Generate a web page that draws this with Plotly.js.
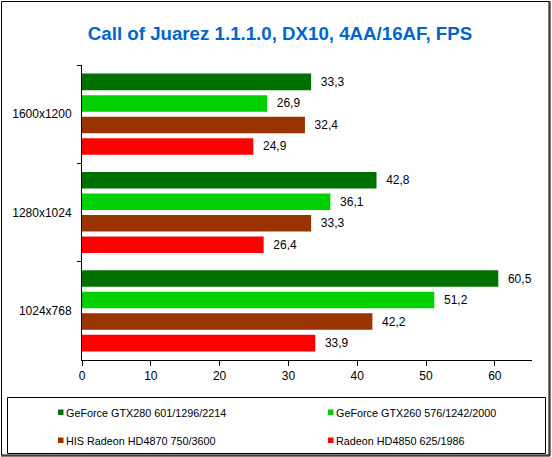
<!DOCTYPE html>
<html>
<head>
<meta charset="utf-8">
<script src="https://cdn.plot.ly/plotly-3.0.1.min.js"></script>
<style>
  html, body { margin: 0; padding: 0; background: #fff; }
  #chart { width: 552px; height: 457px; }
</style>
</head>
<body>
<div id="chart"></div>
<script>
// ---- data ----
const titleText = 'Call of Juarez 1.1.1.0, DX10, 4AA/16AF, FPS';
const categories = ['1600x1200', '1280x1024', '1024x768'];
const seriesNames = [
  'GeForce GTX280 601/1296/2214',
  'GeForce GTX260 576/1242/2000',
  'HIS Radeon HD4870 750/3600',
  'Radeon HD4850 625/1986'
];
const gtx280 = [33.3, 42.8, 60.5];
const gtx260 = [26.9, 36.1, 51.2];
const hd4870 = [32.4, 33.3, 42.2];
const hd4850 = [24.9, 26.4, 33.9];
const xTicks = [0, 10, 20, 30, 40, 50, 60];

// ---- styling ----
const seriesValues = [gtx280, gtx260, hd4870, hd4850];
const colors = ['#007000', '#00D000', '#993300', '#FF0000'];
const FONT = 'Liberation Sans, Arial, sans-serif';

const W = 552, H = 457;
const M = { l: 82, r: 20, t: 65, b: 97 };
const PW = W - M.l - M.r, PH = H - M.t - M.b;
const px = x => (x - M.l) / PW;          // pixel -> paper x
const py = y => (H - M.b - y) / PH;      // pixel -> paper y

const traces = seriesValues.map((vals, i) => ({
  type: 'bar',
  orientation: 'h',
  name: seriesNames[i],
  y: categories,
  x: vals,
  marker: { color: colors[i], line: { width: 0 } },
  texttemplate: '  %{x:.1f}',
  textposition: 'outside',
  textfont: { family: FONT, size: 12, color: '#000' },
  cliponaxis: false,
  hoverinfo: 'skip',
  showlegend: false
}));

const shapes = [
  // outer frame
  { type: 'rect', xref: 'paper', yref: 'paper', x0: px(1.5), x1: px(549), y0: py(1.5), y1: py(455),
    line: { color: '#000', width: 1 }, fillcolor: 'rgba(0,0,0,0)' },
  { type: 'line', xref: 'paper', yref: 'paper', x0: px(550), x1: px(550), y0: py(1), y1: py(456),
    line: { color: '#000', width: 1 } },
  { type: 'line', xref: 'paper', yref: 'paper', x0: px(1), x1: px(550), y0: py(456), y1: py(456),
    line: { color: '#000', width: 1 } },
  // legend frame
  { type: 'rect', xref: 'paper', yref: 'paper', x0: px(7.5), x1: px(545.5), y0: py(397.5), y1: py(453.5),
    line: { color: '#000', width: 1 }, fillcolor: 'rgba(0,0,0,0)' }
];
const annotations = [];
const legendPos = [[58, 412], [328, 412], [58, 440], [328, 440]];
seriesNames.forEach((name, i) => {
  const [lx, ly] = legendPos[i];
  shapes.push({ type: 'rect', xref: 'paper', yref: 'paper',
    x0: px(lx), x1: px(lx + 5.5), y0: py(ly - 2.5), y1: py(ly + 3),
    line: { width: 0 }, fillcolor: colors[i] });
  annotations.push({ xref: 'paper', yref: 'paper', x: px(lx + 6), y: py(ly + 0.5),
    xanchor: 'left', yanchor: 'middle', showarrow: false, text: name,
    font: { family: FONT, size: 10.8, color: '#000' } });
});

const layout = {
  width: W, height: H,
  margin: M,
  paper_bgcolor: '#fff', plot_bgcolor: '#fff',
  separators: ', ',
  font: { family: FONT, size: 12, color: '#000' },
  title: { text: titleText, x: 280 / W, xanchor: 'center', y: 1 - 33 / H, yanchor: 'middle',
           font: { family: FONT, size: 18.7, color: '#0066CC', weight: 'bold' } },
  barmode: 'group',
  bargap: 0.125,
  bargroupgap: 0.23,
  showlegend: false,
  xaxis: {
    range: [0, 65.4], tickvals: xTicks, ticktext: xTicks.map(String),
    showgrid: false, zeroline: false, showline: true, linecolor: '#000', linewidth: 1,
    ticks: 'outside', ticklen: 5, tickcolor: '#000', tickfont: { family: FONT, size: 12, color: '#000' },
    fixedrange: true
  },
  yaxis: {
    type: 'category', autorange: 'reversed', tickson: 'boundaries',
    showgrid: false, zeroline: false, showline: true, linecolor: '#000', linewidth: 1,
    ticks: 'outside', ticklen: 4, tickcolor: '#000', ticklabelstandoff: 7,
    tickfont: { family: FONT, size: 12, color: '#000' },
    fixedrange: true
  },
  shapes: shapes,
  annotations: annotations
};

Plotly.newPlot('chart', traces, layout, { displayModeBar: false, staticPlot: true });
</script>
</body>
</html>
